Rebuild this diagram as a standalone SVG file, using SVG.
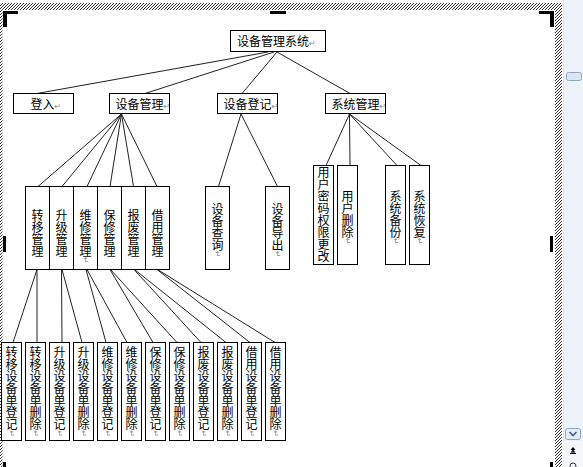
<svg xmlns="http://www.w3.org/2000/svg" width="583" height="467" viewBox="0 0 583 467">
<style>
.box{fill:#fff;stroke:#000;stroke-width:1}
.t{font-family:"Noto Sans CJK SC","Noto Sans CJK JP",sans-serif;font-size:12px;fill:#000}
.v{writing-mode:vertical-rl}
.m{font-family:"DejaVu Sans",sans-serif;font-size:8px;fill:#888}
.c line{stroke:#222;stroke-width:1}
.mk{fill:#000}
</style>
<defs>
<pattern id="hatch" patternUnits="userSpaceOnUse" width="3" height="3">
<rect width="3" height="3" fill="#fff"/>
<path d="M-1,1 L1,-1 M0,3 L3,0 M2,4 L4,2" stroke="#000" stroke-width="0.8"/>
</pattern>
</defs>
<rect width="583" height="467" fill="#fff"/>
<g id="frame">
<rect x="0" y="3" width="562" height="7" fill="url(#hatch)"/>
<rect x="555" y="3" width="7" height="464" fill="url(#hatch)"/>
<rect x="0" y="10" width="2.5" height="457" fill="url(#hatch)"/>
<rect class="mk" x="3" y="11" width="15" height="3"/>
<rect class="mk" x="3" y="11" width="4" height="16"/>
<rect class="mk" x="270" y="11" width="16" height="3"/>
<rect class="mk" x="539" y="11" width="15" height="3"/>
<rect class="mk" x="550" y="11" width="4" height="16"/>
<rect class="mk" x="3" y="236" width="3" height="16"/>
<rect class="mk" x="550" y="236" width="3" height="16"/>
<rect class="mk" x="3" y="462" width="3" height="5"/>
<rect class="mk" x="550" y="462" width="3" height="5"/>
</g>
<g id="scrollbar">
<rect x="563" y="0" width="20" height="467" fill="#eef3fb"/>
<line x1="563.5" y1="0" x2="563.5" y2="467" stroke="#dde5f0"/>
<rect x="566.5" y="72.5" width="15" height="8" rx="2" fill="#dce6f4" stroke="#8ea5c6"/>
<rect x="565.5" y="428.5" width="15" height="11" rx="2" fill="#e4ecf8" stroke="#8ea5c6"/>
<path d="M569.5,432 L573,435.5 L576.5,432" fill="none" stroke="#3a5a8c" stroke-width="1.6"/>
<rect x="563" y="441" width="20" height="26" fill="#f4f6fa"/>
<path d="M570.5,450 L573,447 L575.5,450 Z M570.5,452.5 L573,449.5 L575.5,452.5 Z" fill="#000"/>
<rect x="570" y="453" width="6" height="1" fill="#000"/>
<circle cx="573" cy="466" r="3" fill="none" stroke="#333"/>
</g>
<g class="c" id="connectors">
<line x1="268" y1="52" x2="37" y2="93.5"/>
<line x1="274" y1="52" x2="145" y2="93.5"/>
<line x1="277" y1="52" x2="242" y2="93.5"/>
<line x1="277" y1="52" x2="350" y2="93.5"/>
<line x1="121.5" y1="114" x2="38" y2="186.5"/>
<line x1="121.5" y1="114" x2="62" y2="186.5"/>
<line x1="121.5" y1="114" x2="87" y2="186.5"/>
<line x1="121.5" y1="114" x2="110" y2="186.5"/>
<line x1="121.5" y1="114" x2="133.5" y2="186.5"/>
<line x1="121.5" y1="114" x2="157" y2="186.5"/>
<line x1="241" y1="114" x2="218.5" y2="186.5"/>
<line x1="241" y1="114" x2="277.5" y2="186.5"/>
<line x1="349.5" y1="114" x2="326" y2="165.5"/>
<line x1="349.5" y1="114" x2="350" y2="165.5"/>
<line x1="349.5" y1="114" x2="397" y2="165.5"/>
<line x1="349.5" y1="114" x2="421" y2="165.5"/>
<line x1="37" y1="269.5" x2="13" y2="342.5"/>
<line x1="37" y1="269.5" x2="37" y2="342.5"/>
<line x1="61.5" y1="269.5" x2="62" y2="342.5"/>
<line x1="62" y1="269.5" x2="82" y2="342.5"/>
<line x1="86" y1="269.5" x2="106" y2="342.5"/>
<line x1="87" y1="269.5" x2="127" y2="342.5"/>
<line x1="110" y1="269.5" x2="153" y2="342.5"/>
<line x1="110.5" y1="269.5" x2="177" y2="342.5"/>
<line x1="134" y1="269.5" x2="201" y2="342.5"/>
<line x1="134.5" y1="269.5" x2="226" y2="342.5"/>
<line x1="157" y1="269.5" x2="250" y2="342.5"/>
<line x1="157.5" y1="269.5" x2="275" y2="342.5"/>
</g>
<g id="n-root"><rect class="box" x="230.5" y="30.5" width="95" height="21"/><text class="t" x="237" y="45.5">设备管理系统<tspan class="m">↵</tspan></text></g>
<g id="n-login"><rect class="box" x="13.5" y="93.5" width="60" height="20"/><text class="t" x="30.5" y="108.5">登入<tspan class="m">↵</tspan></text></g>
<g id="n-devmgmt"><rect class="box" x="109.5" y="93.5" width="60" height="20"/><text class="t" x="115.5" y="108.5">设备管理<tspan class="m">↵</tspan></text></g>
<g id="n-devreg"><rect class="box" x="217.5" y="93.5" width="60" height="20"/><text class="t" x="223.5" y="108.5">设备登记<tspan class="m">↵</tspan></text></g>
<g id="n-sysmgmt"><rect class="box" x="325.5" y="93.5" width="60" height="20"/><text class="t" x="331.5" y="108.5">系统管理<tspan class="m">↵</tspan></text></g>
<g id="n-transfer"><rect class="box" x="25.5" y="186.5" width="24" height="83"/><text class="t v" x="37.5" y="209">转移管理</text></g>
<g id="n-upgrade"><rect class="box" x="49.5" y="186.5" width="24" height="83"/><text class="t v" x="61.5" y="209">升级管理</text></g>
<g id="n-repair"><rect class="box" x="73.5" y="186.5" width="24" height="83"/><text class="t v" x="85.5" y="209">维修管理<tspan class="m">↵</tspan></text></g>
<g id="n-warranty"><rect class="box" x="97.5" y="186.5" width="24" height="83"/><text class="t v" x="109.5" y="209">保修管理</text></g>
<g id="n-scrap"><rect class="box" x="121.5" y="186.5" width="24" height="83"/><text class="t v" x="133.5" y="209">报废管理</text></g>
<g id="n-borrow"><rect class="box" x="145.5" y="186.5" width="24" height="83"/><text class="t v" x="157.5" y="209">借用管理</text></g>
<g id="n-query"><rect class="box" x="205.5" y="186.5" width="24" height="83"/><text class="t v" x="217.5" y="203">设备查询<tspan class="m">↵</tspan></text></g>
<g id="n-export"><rect class="box" x="265.5" y="186.5" width="24" height="83"/><text class="t v" x="277.5" y="203">设备导出<tspan class="m">↵</tspan></text></g>
<g id="n-pwd"><rect class="box" x="313.5" y="165.5" width="20" height="99"/><text class="t v" x="323.5" y="166" letter-spacing="0.1">用户密码权限更改</text></g>
<g id="n-userdel"><rect class="box" x="337.5" y="165.5" width="20" height="99"/><text class="t v" x="347.5" y="190">用户删除<tspan class="m">↵</tspan></text></g>
<g id="n-backup"><rect class="box" x="385.5" y="165.5" width="20" height="99"/><text class="t v" x="395.5" y="190">系统备份<tspan class="m">↵</tspan></text></g>
<g id="n-restore"><rect class="box" x="409.5" y="165.5" width="20" height="99"/><text class="t v" x="419.5" y="190">系统恢复<tspan class="m">↵</tspan></text></g>
<g id="n-l4-1"><rect class="box" x="1.5" y="342.5" width="20" height="98"/><text class="t v" x="11.5" y="346.5">转移设备单登记<tspan class="m">↵</tspan></text></g>
<g id="n-l4-2"><rect class="box" x="25.5" y="342.5" width="20" height="98"/><text class="t v" x="35.5" y="346.5">转移设备单删除<tspan class="m">↵</tspan></text></g>
<g id="n-l4-3"><rect class="box" x="49.5" y="342.5" width="20" height="98"/><text class="t v" x="59.5" y="346.5">升级设备单登记<tspan class="m">↵</tspan></text></g>
<g id="n-l4-4"><rect class="box" x="73.5" y="342.5" width="20" height="98"/><text class="t v" x="83.5" y="346.5">升级设备单删除<tspan class="m">↵</tspan></text></g>
<g id="n-l4-5"><rect class="box" x="97.5" y="342.5" width="20" height="98"/><text class="t v" x="107.5" y="346.5">维修设备单登记<tspan class="m">↵</tspan></text></g>
<g id="n-l4-6"><rect class="box" x="121.5" y="342.5" width="20" height="98"/><text class="t v" x="131.5" y="346.5">维修设备单删除<tspan class="m">↵</tspan></text></g>
<g id="n-l4-7"><rect class="box" x="145.5" y="342.5" width="20" height="98"/><text class="t v" x="155.5" y="346.5">保修设备单登记<tspan class="m">↵</tspan></text></g>
<g id="n-l4-8"><rect class="box" x="169.5" y="342.5" width="20" height="98"/><text class="t v" x="179.5" y="346.5">保修设备单删除<tspan class="m">↵</tspan></text></g>
<g id="n-l4-9"><rect class="box" x="193.5" y="342.5" width="20" height="98"/><text class="t v" x="203.5" y="346.5">报废设备单登记<tspan class="m">↵</tspan></text></g>
<g id="n-l4-10"><rect class="box" x="217.5" y="342.5" width="20" height="98"/><text class="t v" x="227.5" y="346.5">报废设备单删除<tspan class="m">↵</tspan></text></g>
<g id="n-l4-11"><rect class="box" x="241.5" y="342.5" width="20" height="98"/><text class="t v" x="251.5" y="346.5">借用设备单登记<tspan class="m">↵</tspan></text></g>
<g id="n-l4-12"><rect class="box" x="265.5" y="342.5" width="20" height="98"/><text class="t v" x="275.5" y="346.5">借用设备单删除<tspan class="m">↵</tspan></text></g>
</svg>
